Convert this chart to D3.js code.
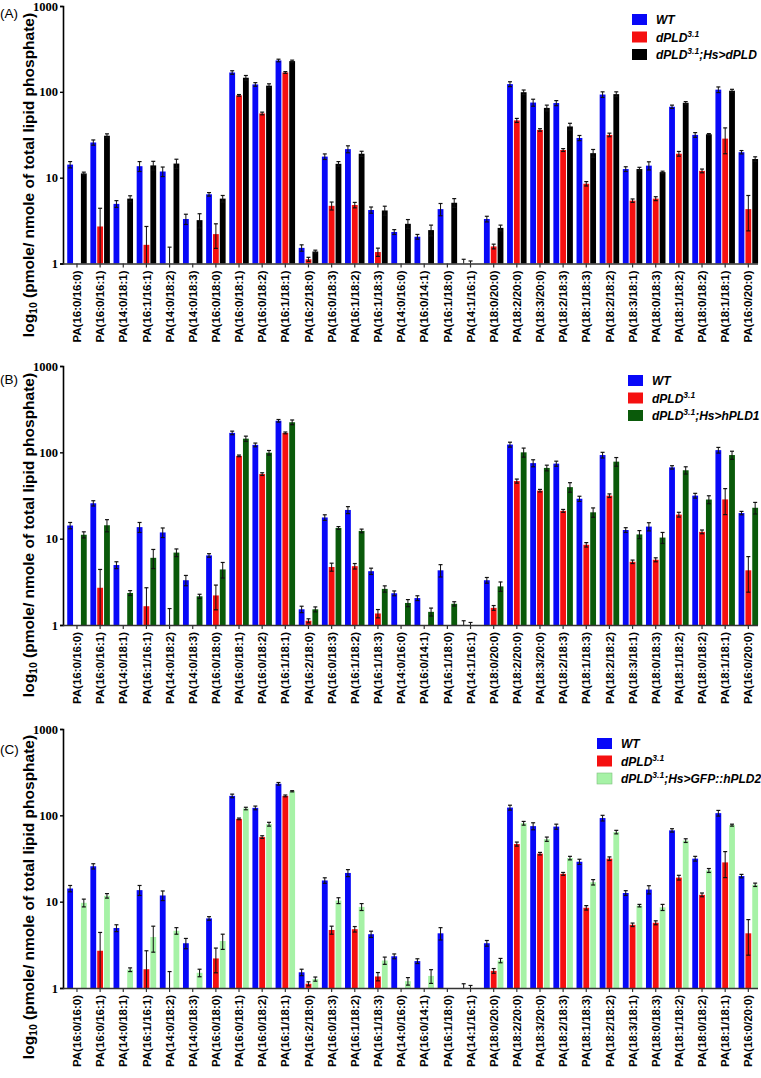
<!DOCTYPE html>
<html><head><meta charset="utf-8">
<script src="https://cdn.jsdelivr.net/npm/d3@7"></script>
<style>body{margin:0;background:#fff}svg{display:block}</style>
</head><body>
<svg id="chart" width="761" height="1078"></svg>
<script>
const categories = ["PA(16:0/16:0)","PA(16:0/16:1)","PA(14:0/18:1)","PA(16:1/16:1)","PA(14:0/18:2)","PA(14:0/18:3)","PA(16:0/18:0)","PA(16:0/18:1)","PA(16:0/18:2)","PA(16:1/18:1)","PA(16:2/18:0)","PA(16:0/18:3)","PA(16:1/18:2)","PA(16:1/18:3)","PA(14:0/16:0)","PA(16:0/14:1)","PA(16:1/18:0)","PA(14:1/16:1)","PA(18:0/20:0)","PA(18:2/20:0)","PA(18:3/20:0)","PA(18:2/18:3)","PA(18:1/18:3)","PA(18:2/18:2)","PA(18:3/18:1)","PA(18:0/18:3)","PA(18:1/18:2)","PA(18:0/18:2)","PA(18:1/18:1)","PA(16:0/20:0)"];

const wt      = [14.2,25.7,4.95,13.6,11.8,3.3,6.4,168,122,232,1.52,17.6,21.5,4.2,2.33,2.05,4.3,1.0,3.3,123,75,74,29,93,12.6,13.8,67,31.5,106,19.8];
const wtErr   = [1.2,1.8,0.45,1.8,1.5,0.45,0.3,8,6,8,0.13,1.3,2,0.35,0.15,0.13,0.7,0.12,0.25,8,7,5,2,7,0.8,1.5,3,2,8,0.9];
const dpld    = [null,2.7,null,1.65,1.0,null,2.2,91,56,168,1.12,4.7,4.8,1.36,null,null,null,1.0,1.58,46.5,36,21,8.5,31.5,5.4,5.7,19,12,28.5,4.3];
const dpldErr = [0,1.7,0,1.05,0.55,0,0.7,2,2,4,0.06,0.5,0.35,0.15,0,0,0,0.07,0.1,2.5,1.2,0.8,0.5,1.5,0.25,0.3,1.2,0.6,9.5,1.9];
const hsDPLD    = [11.2,30.8,5.7,13.9,14.6,3.2,5.7,146,118,228,1.38,14.5,19,4.15,2.9,2.45,5.1,null,2.6,99,65,39.5,19.3,94,12.6,11.6,74.5,32,103,16.5];
const hsDPLDErr = [0.4,1.6,0.45,1.6,1.8,0.6,0.5,9,6,6,0.05,0.9,1.3,0.5,0.35,0.35,0.6,0,0.2,6,5,3.5,2,6,0.6,0.3,2.5,0.6,4,1];
const hsHPLD1    = [11.1,14.3,2.35,6.0,6.9,2.15,4.4,144,99,223,1.52,13.3,12.3,2.62,1.8,1.42,1.76,null,2.8,100,66,39.5,20.2,78,11.2,10.3,62,28.4,93,22.8];
const hsHPLD1Err = [0.9,2.3,0.15,1.5,0.7,0.12,0.9,10,6,14,0.1,0.5,0.6,0.22,0.17,0.15,0.1,0,0.35,12,5,5,2.5,9,1.2,1.5,6,3,10,3.5];
const hsHPLD2    = [9.7,11.7,1.63,3.9,4.6,1.5,3.5,120,79,190,1.27,10.3,8.7,2.08,1.2,1.38,null,null,2.08,81,53,32,16.8,64,9.0,8.6,51,23,77,15.7];
const hsHPLD2Err = [1,0.7,0.08,1.3,0.4,0.15,0.7,4,4,3,0.07,0.8,0.8,0.2,0.12,0.25,0,0,0.12,4,3,1.5,1.2,3,0.3,0.7,2.5,1.2,2,0.7];

const yTicks = [1, 10, 100, 1000];
const colors = {wt:"#0808f8", dpld:"#f51010", hsDPLD:"#000000", hsHPLD1:"#0a5a0a", hsHPLD2:"#a6f2a6"};

const panels = [
  {tag:"(A)", tagY:18, top:6, bottom:263.5, titleY:175, legX:632, legY:24,
   series:[{name:"WT",v:wt,e:wtErr,c:colors.wt},{name:"dpld",v:dpld,e:dpldErr,c:colors.dpld},{name:"dPLD",v:hsDPLD,e:hsDPLDErr,c:colors.hsDPLD,label:";Hs>dPLD"}]},
  {tag:"(B)", tagY:384, top:366, bottom:625, titleY:535, legX:628, legY:385,
   series:[{name:"WT",v:wt,e:wtErr,c:colors.wt},{name:"dpld",v:dpld,e:dpldErr,c:colors.dpld},{name:"hPLD1",v:hsHPLD1,e:hsHPLD1Err,c:colors.hsHPLD1,label:";Hs>hPLD1"}]},
  {tag:"(C)", tagY:754, top:729, bottom:988, titleY:897, legX:597, legY:748,
   series:[{name:"WT",v:wt,e:wtErr,c:colors.wt},{name:"dpld",v:dpld,e:dpldErr,c:colors.dpld},{name:"hPLD2",v:hsHPLD2,e:hsHPLD2Err,c:colors.hsHPLD2,label:";Hs>GFP::hPLD2"}]}
];

const svg = d3.select("#chart");
const axisX = 63;
const x = d3.scaleBand().domain(categories).range([65.4, 759.9]).paddingInner(0).paddingOuter(0);
const inner = d3.scaleBand().domain([0,1,2]).range([-9.75, 9.75]).paddingInner(0.15).paddingOuter(0);

panels.forEach(p => {
  const g = svg.append("g");
  const y = d3.scaleLog().domain([1, 1000]).range([p.bottom, p.top]);

  p.series.forEach((s, si) => {
    const bg = g.append("g");
    categories.forEach((cat, i) => {
      const v = s.v[i];
      if (v == null) return;
      const cx = x(cat) + x.bandwidth()/2;
      const bx = cx + inner(si);
      const bw = inner.bandwidth();
      const yv = y(Math.max(v, 1));
      if (p.bottom - yv > 0.2) {
        bg.append("rect").attr("x", bx).attr("y", yv).attr("width", bw).attr("height", p.bottom - yv).attr("fill", s.c);
      }
      const e = s.e[i];
      if (e > 0) {
        const mx = bx + bw/2;
        const yu = y(v + e), yl = y(Math.max(v - e, 1));
        bg.append("line").attr("x1", mx).attr("x2", mx).attr("y1", yu).attr("y2", yl).attr("stroke", "#111").attr("stroke-width", 1);
        bg.append("line").attr("x1", mx-2).attr("x2", mx+2).attr("y1", yu).attr("y2", yu).attr("stroke", "#111").attr("stroke-width", 1.2);
        if (yl < p.bottom - 0.5)
          bg.append("line").attr("x1", mx-2).attr("x2", mx+2).attr("y1", yl).attr("y2", yl).attr("stroke", "#111").attr("stroke-width", 1.2);
      }
    });
  });

  const ya = g.append("g").attr("transform", `translate(${axisX},0)`)
    .call(d3.axisLeft(y).tickValues(yTicks).tickFormat(d3.format("d")).tickSize(3).tickPadding(2));
  ya.select(".domain").attr("stroke", "#000").attr("stroke-width", 1.6);
  ya.selectAll(".tick line").attr("stroke", "#000").attr("stroke-width", 1.4);
  ya.selectAll(".tick text").attr("font-family", "'Liberation Serif', 'Times New Roman', serif")
    .attr("font-weight", "bold").attr("font-size", 12.5).attr("fill", "#000");

  const xa = g.append("g").attr("transform", `translate(0,${p.bottom})`)
    .call(d3.axisBottom(x).tickSize(4).tickSizeOuter(0).tickPadding(3));
  xa.select(".domain").attr("d", `M${axisX},0.5H758`).attr("stroke", "#333").attr("stroke-width", 1.6);
  xa.selectAll(".tick line").attr("stroke", "#333").attr("stroke-width", 1.2);
  xa.selectAll(".tick text")
    .attr("font-family", "'Liberation Sans', Arial, sans-serif").attr("font-weight", "bold").attr("font-size", 11.5).attr("fill", "#000")
    .attr("text-anchor", "end").attr("transform", "rotate(-90)").attr("x", -7).attr("y", 0).attr("dy", "0.36em");

  const t = g.append("text").attr("transform", `translate(34,${p.titleY}) rotate(-90)`)
    .attr("text-anchor", "middle").attr("font-family", "'Liberation Sans', Arial, sans-serif")
    .attr("font-weight", "bold").attr("font-size", 15.5).attr("fill", "#000");
  t.append("tspan").text("log");
  t.append("tspan").attr("font-size", 10.5).attr("dy", 3).text("10");
  t.append("tspan").attr("dy", -3).text(" (pmole/ nmole of total lipid phosphate)");

  g.append("text").attr("x", 0).attr("y", p.tagY).attr("font-family", "'Liberation Sans', Arial, sans-serif")
    .attr("font-size", 13.5).attr("fill", "#000").text(p.tag);

  const lg = g.append("g").attr("font-family", "'Liberation Sans', Arial, sans-serif").attr("font-style", "italic")
    .attr("font-weight", "bold").attr("font-size", 12).attr("fill", "#000");
  p.series.forEach((s, si) => {
    const by = p.legY + si * 17.5;
    lg.append("rect").attr("x", p.legX).attr("y", by - 10).attr("width", 15).attr("height", 11)
      .attr("fill", s.c).attr("stroke", si === 2 && s.c === colors.hsHPLD2 ? "#7fbf7f" : "none").attr("stroke-width", 0.6);
    const tx = lg.append("text").attr("x", p.legX + 24).attr("y", by);
    if (si === 0) { tx.text("WT"); }
    else {
      tx.append("tspan").text("dPLD");
      tx.append("tspan").attr("font-size", 8.5).attr("dy", -5).text("3.1");
      if (s.label) tx.append("tspan").attr("dy", 5).text(s.label);
    }
  });
});
</script>
</body></html>
